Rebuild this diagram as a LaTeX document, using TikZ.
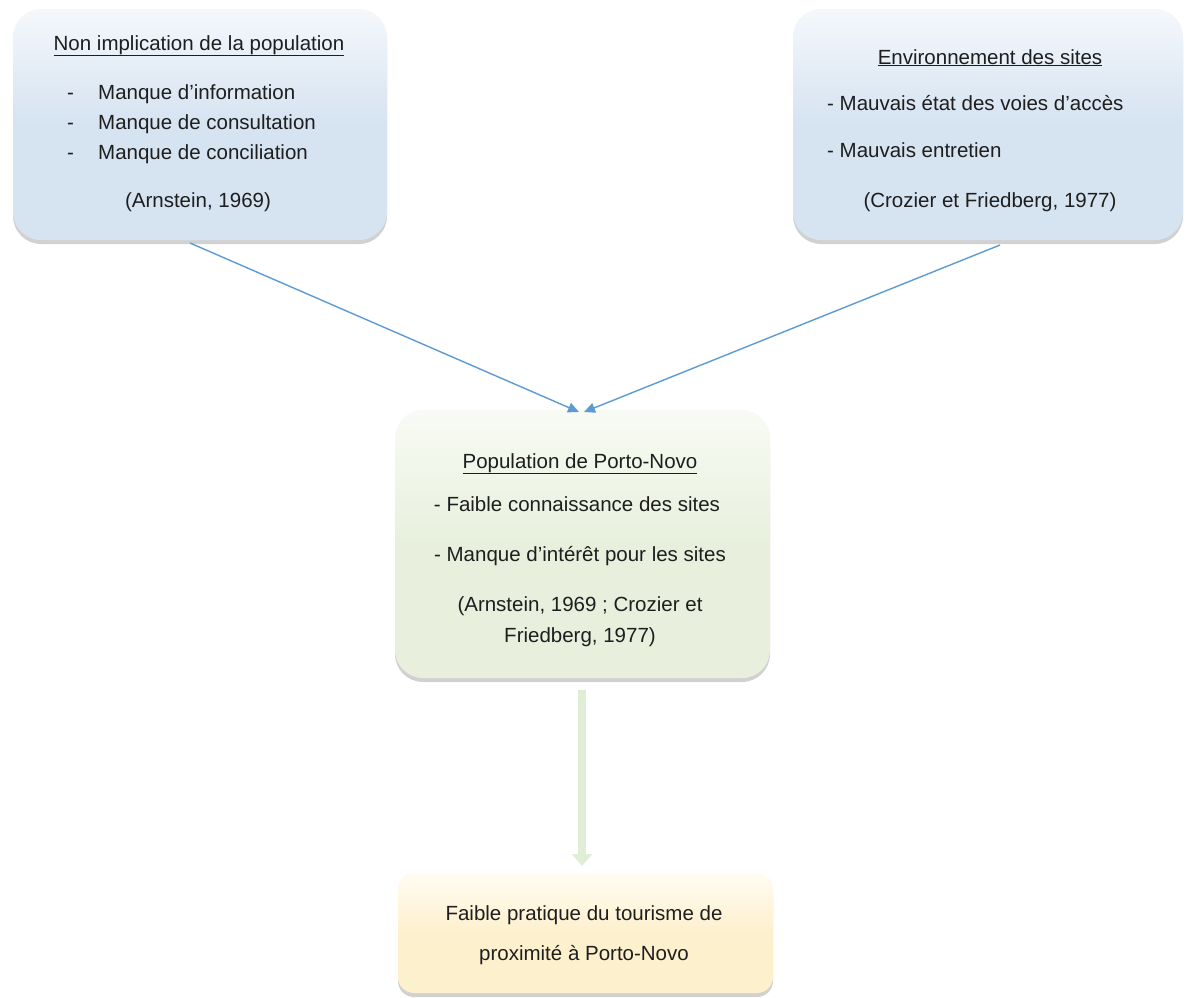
\documentclass[tikz,border=0pt]{standalone}
\usepackage{fontspec}
\setmainfont{Liberation Sans}
\usetikzlibrary{shadows,arrows.meta}
\definecolor{bluebase}{RGB}{214,227,241}
\definecolor{bluetop}{RGB}{244,248,252}
\definecolor{greenbase}{RGB}{232,240,221}
\definecolor{greentop}{RGB}{248,251,244}
\definecolor{yelbase}{RGB}{253,240,205}
\definecolor{yeltop}{RGB}{255,252,242}
\definecolor{arrowblue}{RGB}{91,155,213}
\definecolor{arrowgreen}{RGB}{224,238,216}
\definecolor{txt}{RGB}{30,30,30}
\tikzset{
  card/.style={rounded corners=#1, inner sep=0pt, outer sep=0pt,
    drop shadow={shadow xshift=0pt, shadow yshift=-4pt, opacity=0.3, fill=black!60}},
  bluecard/.style={card=28pt, top color=bluetop, bottom color=bluebase, middle color=bluebase},
  greencard/.style={card=28pt, top color=greentop, bottom color=greenbase, middle color=greenbase},
  yelcard/.style={card=16pt, top color=yeltop, bottom color=yelbase, middle color=yelbase},
  lbl/.style={inner sep=0pt, text=txt, text height=15pt, text depth=3pt, font=\fontsize{20.5}{24}\selectfont},
  lblw/.style={lbl, anchor=west},
  bluearrow/.style={draw=arrowblue, line width=1.4pt, -{Triangle[length=11pt,width=10pt]}},
  greenarrow/.style={draw=arrowgreen, line width=8pt, -{Triangle[length=12pt,width=20pt]}}
}
\begin{document}
\begin{tikzpicture}[x=1pt,y=-1pt]
\useasboundingbox (0,0) rectangle (1187,997);
% boxes
\path[bluecard] (13,9) rectangle (387,240);
\node[inner sep=0pt] (b1) at (200,124.5) {};
\path[bluecard] (793,9) rectangle (1183,240);
\node[inner sep=0pt] (b2) at (988,124.5) {};
\path[greencard] (395,410) rectangle (770,678);
\node[inner sep=0pt] (b3) at (582.5,544) {};
\path[yelcard] (398,873) rectangle (773,993);
\node[inner sep=0pt] (b4) at (585.5,933) {};
% box 1 text
\node[lbl] (t1) at (199,44) {\underline{Non implication de la population}};
\node[lblw] (t1d1) at (67,93) {-};
\node[lblw] (t1a) at (98,93) {Manque d’information};
\node[lblw] (t1d2) at (67,123) {-};
\node[lblw] (t1b) at (98,123) {Manque de consultation};
\node[lblw] (t1d3) at (67,153) {-};
\node[lblw] (t1c) at (98,153) {Manque de conciliation};
\node[lbl] (t1r) at (198,201) {(Arnstein, 1969)};
% box 2 text
\node[lbl] (t2) at (990,58) {\underline{Environnement des sites}};
\node[lblw] (t2a) at (827,104) {- Mauvais état des voies d’accès};
\node[lblw] (t2b) at (827,151) {- Mauvais entretien};
\node[lbl] (t2r) at (990,201) {(Crozier et Friedberg, 1977)};
% box 3 text
\node[lbl] (t3) at (580,462) {\underline{Population de Porto-Novo}};
\node[lbl] (t3a) at (577,505) {- Faible connaissance des sites};
\node[lbl] (t3b) at (580,555) {- Manque d’intérêt pour les sites};
\node[lbl] (t3r1) at (580,605) {(Arnstein, 1969 ; Crozier et};
\node[lbl] (t3r2) at (580,636) {Friedberg, 1977)};
% box 4 text
\node[lbl] (t4a) at (584,914) {Faible pratique du tourisme de};
\node[lbl] (t4b) at (584,954) {proximité à Porto-Novo};
% connectors
\coordinate (s1) at (190,243);
\coordinate (s2) at (1000,245);
\coordinate (e1) at (579,412);
\coordinate (e2) at (584,412);
\draw[bluearrow] (s1) -- (e1);
\draw[bluearrow] (s2) -- (e2);
\coordinate (s3) at (582,690);
\coordinate (e3) at (582,866);
\draw[greenarrow] (s3) -- (e3);
\end{tikzpicture}
\end{document}
